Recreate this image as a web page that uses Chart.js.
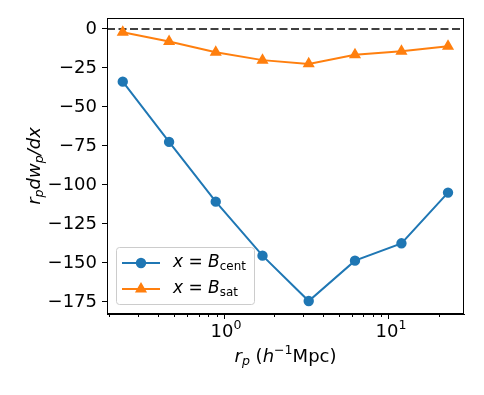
<!DOCTYPE html>
<html>
<head>
<meta charset="utf-8">
<script src="https://cdn.jsdelivr.net/npm/chart.js@4.4.1/dist/chart.umd.min.js"></script>
<style>
  html, body { margin: 0; padding: 0; background: #fff; }
  #wrap { width: 484px; height: 395px; }
</style>
</head>
<body>
<div id="wrap"><canvas id="chart" width="484" height="395"></canvas></div>
<script>
// データ
const rp = [0.243, 0.464, 0.89, 1.71, 3.26, 6.22, 11.9, 22.8];
const bCent = [-33.8, -72.4, -110.7, -145.3, -174.4, -148.5, -137.4, -104.9];
const bSat = [-2.1, -8.1, -15.0, -20.0, -22.4, -16.5, -14.3, -11.1];
const yTicks = [0, -25, -50, -75, -100, -125, -150, -175];
const xMajor = [1, 10];
const xMajorExp = ["0", "1"];
const xMinor = [0.2, 0.3, 0.4, 0.5, 0.6, 0.7, 0.8, 0.9, 2, 3, 4, 5, 6, 7, 8, 9, 20];

const FONT = "'DejaVu Sans', sans-serif";
const BLUE = "#1f77b4";
const ORANGE = "#ff7f0e";
const FS = 18;

// 上付き・下付きを含む文字列を描く
function drawRich(ctx, parts, x, y, size, align) {
  const fontOf = p => {
    const s = p.sub || p.sup ? size * 0.7 : size;
    return (p.it ? "oblique " : "") + s + "px " + FONT;
  };
  let total = 0;
  parts.forEach(p => { ctx.font = fontOf(p); total += ctx.measureText(p.t).width; });
  let cx = align === "center" ? x - total / 2 : x;
  ctx.textBaseline = "middle";
  ctx.textAlign = "left";
  parts.forEach(p => {
    ctx.font = fontOf(p);
    const dy = p.sub ? size * 0.25 : p.sup ? -size * 0.35 : 0;
    ctx.fillText(p.t, cx, y + dy);
    cx += ctx.measureText(p.t).width;
  });
}

const decorPlugin = {
  id: "decor",
  beforeDatasetsDraw(chart) {
    const { ctx, chartArea, scales } = chart;
    const y0 = scales.y.getPixelForValue(0);
    ctx.save();
    ctx.strokeStyle = "#404040";
    ctx.lineWidth = 2;
    ctx.setLineDash([8, 3.5]);
    ctx.beginPath();
    ctx.moveTo(chartArea.left, y0);
    ctx.lineTo(chartArea.right, y0);
    ctx.stroke();
    ctx.restore();
  },
  afterDraw(chart) {
    const { ctx, chartArea, scales } = chart;
    ctx.save();
    // 枠線
    ctx.strokeStyle = "#000";
    ctx.lineWidth = 1;
    ctx.strokeRect(chartArea.left + 0.5, chartArea.top + 0.5, chartArea.right - chartArea.left - 1, chartArea.bottom - chartArea.top - 1);
    // x 軸の補助目盛り
    xMinor.forEach(v => {
      const px = Math.round(scales.x.getPixelForValue(v)) + 0.5;
      ctx.beginPath();
      ctx.moveTo(px, chartArea.bottom);
      ctx.lineTo(px, chartArea.bottom + 3);
      ctx.stroke();
    });
    ctx.fillStyle = "#000";
    // x 軸の目盛りラベル (10^n)
    xMajor.forEach((v, i) => {
      drawRich(ctx, [{ t: "10" }, { t: xMajorExp[i], sup: true }], scales.x.getPixelForValue(v) + 2, 332, FS, "center");
    });
    // x 軸タイトル
    drawRich(ctx, [
      { t: "r", it: true }, { t: "p", it: true, sub: true },
      { t: " (" }, { t: "h", it: true }, { t: "−1", sup: true }, { t: "Mpc)" }
    ], (chartArea.left + chartArea.right) / 2, 357, FS, "center");
    // y 軸タイトル
    ctx.save();
    ctx.translate(35, (chartArea.top + chartArea.bottom) / 2);
    ctx.rotate(-Math.PI / 2);
    drawRich(ctx, [
      { t: "r", it: true }, { t: "p", it: true, sub: true },
      { t: "dw", it: true }, { t: "p", it: true, sub: true },
      { t: "/dx", it: true }
    ], 0, 0, FS, "center");
    ctx.restore();

    // 凡例
    const bx = 116, by = 247, bw = 138, bh = 57;
    ctx.fillStyle = "rgba(255,255,255,0.8)";
    ctx.strokeStyle = "#cccccc";
    ctx.beginPath();
    ctx.roundRect(bx + 0.5, by + 0.5, bw, bh, 3);
    ctx.fill();
    ctx.stroke();
    const rows = [
      { color: BLUE, style: "circle", sub: "cent", y: 263 },
      { color: ORANGE, style: "triangle", sub: "sat", y: 289 }
    ];
    rows.forEach(r => {
      ctx.strokeStyle = r.color;
      ctx.lineWidth = 2;
      ctx.beginPath();
      ctx.moveTo(122, r.y);
      ctx.lineTo(160, r.y);
      ctx.stroke();
      Chart.helpers.drawPoint(ctx, { pointStyle: r.style, radius: r.style === "circle" ? 4.2 : 5, rotation: 0, borderWidth: 1 }, 141, r.y);
      ctx.fillStyle = r.color;
      ctx.fill();
      ctx.fillStyle = "#000";
      drawRich(ctx, [
        { t: "x", it: true }, { t: " = " }, { t: "B", it: true }, { t: r.sub, sub: true }
      ], 173, r.y, 17, "left");
    });
    ctx.restore();
  }
};

const makePoints = arr => rp.map((x, i) => ({ x: x, y: arr[i] }));

new Chart(document.getElementById("chart").getContext("2d"), {
  type: "line",
  data: {
    datasets: [
      {
        label: "x = B_cent",
        data: makePoints(bCent),
        borderColor: BLUE,
        backgroundColor: BLUE,
        pointBackgroundColor: BLUE,
        pointBorderColor: BLUE,
        pointStyle: "circle",
        pointRadius: 4.2,
        borderWidth: 2,
        tension: 0
      },
      {
        label: "x = B_sat",
        data: makePoints(bSat),
        borderColor: ORANGE,
        backgroundColor: ORANGE,
        pointBackgroundColor: ORANGE,
        pointBorderColor: ORANGE,
        pointStyle: "triangle",
        pointRadius: 5,
        borderWidth: 2,
        tension: 0
      }
    ]
  },
  options: {
    responsive: false,
    animation: false,
    layout: { padding: { left: 0, right: 20, top: 18, bottom: 0 } },
    plugins: { legend: { display: false }, tooltip: { enabled: false } },
    scales: {
      x: {
        type: "logarithmic",
        min: 0.195,
        max: 28.5,
        afterFit: s => { s.height = 81; },
        afterBuildTicks: s => { s.ticks = xMajor.map(v => ({ value: v })); },
        ticks: { display: false },
        grid: { drawOnChartArea: false, tickLength: 5, color: "#000" },
        border: { color: "#000" }
      },
      y: {
        type: "linear",
        min: -182.7,
        max: 7,
        afterFit: s => { s.width = 107; },
        afterBuildTicks: s => { s.ticks = yTicks.map(v => ({ value: v })); },
        ticks: {
          callback: v => (v < 0 ? "−" + Math.abs(v) : String(v)),
          font: { size: FS, family: FONT },
          color: "#000",
          padding: 5
        },
        grid: { drawOnChartArea: false, tickLength: 5, color: "#000" },
        border: { color: "#000" }
      }
    }
  },
  plugins: [decorPlugin]
});
</script>
</body>
</html>
